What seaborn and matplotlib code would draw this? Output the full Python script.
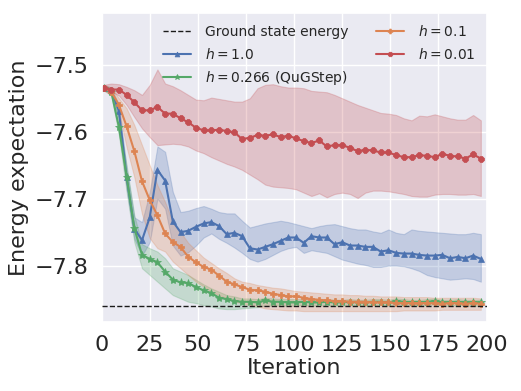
import numpy as np
import pandas as pd
import matplotlib
matplotlib.use("Agg")
import matplotlib.pyplot as plt
import seaborn as sns

iterations = list(range(1, 200, 4))
ground_state = -7.861

h1_mean = [-7.534,-7.538,-7.569,-7.668,-7.745,-7.762,-7.728,-7.657,-7.673,-7.734,
           -7.750,-7.748,-7.742,-7.737,-7.735,-7.741,-7.753,-7.751,-7.756,-7.774,
           -7.776,-7.772,-7.768,-7.763,-7.758,-7.758,-7.766,-7.756,-7.758,-7.758,
           -7.768,-7.765,-7.770,-7.770,-7.772,-7.772,-7.779,-7.777,-7.781,-7.782,
           -7.782,-7.784,-7.785,-7.785,-7.784,-7.789,-7.787,-7.789,-7.785,-7.790]
h1_upper = [-7.530,-7.534,-7.560,-7.655,-7.728,-7.735,-7.690,-7.622,-7.630,-7.690,
            -7.720,-7.718,-7.714,-7.711,-7.715,-7.720,-7.722,-7.722,-7.733,-7.743,
            -7.740,-7.737,-7.735,-7.733,-7.735,-7.738,-7.741,-7.744,-7.741,-7.739,
            -7.738,-7.741,-7.744,-7.746,-7.746,-7.749,-7.751,-7.746,-7.751,-7.753,
            -7.746,-7.748,-7.749,-7.750,-7.751,-7.752,-7.753,-7.753,-7.751,-7.753]
h1_lower = [-7.538,-7.542,-7.580,-7.685,-7.760,-7.785,-7.765,-7.700,-7.715,-7.770,
            -7.785,-7.780,-7.770,-7.758,-7.752,-7.760,-7.766,-7.773,-7.781,-7.790,
            -7.794,-7.790,-7.784,-7.778,-7.774,-7.772,-7.781,-7.777,-7.779,-7.781,
            -7.786,-7.791,-7.794,-7.797,-7.799,-7.802,-7.802,-7.800,-7.800,-7.801,
            -7.804,-7.808,-7.814,-7.817,-7.819,-7.821,-7.820,-7.819,-7.820,-7.824]

h0266_mean = [-7.534,-7.540,-7.593,-7.667,-7.744,-7.784,-7.790,-7.795,-7.809,-7.821,
              -7.825,-7.826,-7.832,-7.837,-7.841,-7.848,-7.850,-7.853,-7.854,-7.854,
              -7.855,-7.852,-7.854,-7.854,-7.855,-7.855,-7.854,-7.855,-7.855,-7.854,
              -7.855,-7.855,-7.854,-7.855,-7.855,-7.854,-7.854,-7.855,-7.853,-7.854,
              -7.855,-7.855,-7.854,-7.853,-7.855,-7.855,-7.854,-7.855,-7.855,-7.855]
h0266_upper = [-7.530,-7.536,-7.580,-7.650,-7.725,-7.768,-7.774,-7.779,-7.789,-7.804,
               -7.809,-7.814,-7.821,-7.828,-7.834,-7.839,-7.844,-7.846,-7.849,-7.849,
               -7.850,-7.848,-7.849,-7.850,-7.850,-7.850,-7.850,-7.851,-7.851,-7.850,
               -7.851,-7.851,-7.850,-7.851,-7.851,-7.850,-7.850,-7.851,-7.849,-7.850,
               -7.851,-7.851,-7.850,-7.849,-7.851,-7.851,-7.850,-7.851,-7.851,-7.851]
h0266_lower = [-7.538,-7.545,-7.605,-7.690,-7.765,-7.804,-7.814,-7.824,-7.834,-7.844,
               -7.849,-7.854,-7.856,-7.859,-7.861,-7.864,-7.865,-7.865,-7.864,-7.863,
               -7.862,-7.860,-7.860,-7.860,-7.860,-7.860,-7.859,-7.860,-7.860,-7.859,
               -7.860,-7.860,-7.859,-7.860,-7.860,-7.859,-7.859,-7.860,-7.858,-7.859,
               -7.860,-7.860,-7.859,-7.858,-7.860,-7.860,-7.859,-7.860,-7.860,-7.860]

h01_mean = [-7.534,-7.540,-7.560,-7.592,-7.629,-7.674,-7.702,-7.725,-7.752,-7.765,
            -7.772,-7.787,-7.795,-7.802,-7.806,-7.815,-7.824,-7.828,-7.832,-7.836,
            -7.837,-7.839,-7.842,-7.844,-7.846,-7.846,-7.848,-7.850,-7.851,-7.852,
            -7.853,-7.853,-7.854,-7.854,-7.854,-7.855,-7.855,-7.855,-7.856,-7.856,
            -7.856,-7.856,-7.856,-7.856,-7.857,-7.856,-7.856,-7.857,-7.856,-7.857]
h01_upper = [-7.530,-7.534,-7.550,-7.565,-7.590,-7.620,-7.650,-7.680,-7.705,-7.735,
             -7.750,-7.766,-7.777,-7.788,-7.796,-7.804,-7.811,-7.819,-7.824,-7.826,
             -7.829,-7.831,-7.833,-7.834,-7.836,-7.838,-7.839,-7.840,-7.841,-7.842,
             -7.843,-7.843,-7.844,-7.844,-7.845,-7.845,-7.846,-7.846,-7.846,-7.847,
             -7.847,-7.847,-7.847,-7.848,-7.848,-7.848,-7.848,-7.848,-7.848,-7.849]
h01_lower = [-7.538,-7.546,-7.570,-7.623,-7.668,-7.723,-7.759,-7.774,-7.779,-7.794,
             -7.804,-7.814,-7.824,-7.831,-7.839,-7.844,-7.849,-7.854,-7.856,-7.859,
             -7.861,-7.864,-7.865,-7.866,-7.867,-7.867,-7.868,-7.868,-7.868,-7.868,
             -7.868,-7.868,-7.868,-7.868,-7.868,-7.868,-7.868,-7.868,-7.868,-7.867,
             -7.867,-7.867,-7.867,-7.867,-7.866,-7.866,-7.866,-7.866,-7.866,-7.866]

h001_mean = [-7.534,-7.537,-7.537,-7.545,-7.556,-7.568,-7.568,-7.563,-7.573,-7.573,
             -7.580,-7.586,-7.594,-7.598,-7.598,-7.597,-7.599,-7.601,-7.611,-7.609,
             -7.605,-7.606,-7.604,-7.608,-7.606,-7.610,-7.614,-7.617,-7.613,-7.622,
             -7.620,-7.620,-7.624,-7.629,-7.627,-7.628,-7.631,-7.631,-7.635,-7.638,
             -7.638,-7.635,-7.636,-7.638,-7.633,-7.636,-7.637,-7.640,-7.634,-7.640]
h001_upper = [-7.530,-7.528,-7.529,-7.533,-7.538,-7.545,-7.530,-7.507,-7.528,-7.532,
              -7.538,-7.545,-7.552,-7.553,-7.549,-7.551,-7.553,-7.555,-7.555,-7.550,
              -7.535,-7.530,-7.529,-7.532,-7.534,-7.534,-7.535,-7.539,-7.540,-7.541,
              -7.545,-7.550,-7.555,-7.560,-7.564,-7.568,-7.572,-7.573,-7.575,-7.580,
              -7.583,-7.576,-7.577,-7.574,-7.577,-7.580,-7.582,-7.582,-7.575,-7.583]
h001_lower = [-7.537,-7.540,-7.546,-7.560,-7.578,-7.595,-7.608,-7.620,-7.619,-7.618,
              -7.619,-7.622,-7.628,-7.632,-7.638,-7.643,-7.648,-7.652,-7.657,-7.664,
              -7.671,-7.679,-7.682,-7.683,-7.684,-7.686,-7.691,-7.696,-7.692,-7.698,
              -7.693,-7.691,-7.693,-7.699,-7.691,-7.688,-7.688,-7.689,-7.691,-7.693,
              -7.696,-7.697,-7.697,-7.694,-7.693,-7.693,-7.694,-7.694,-7.693,-7.696]

labels = [r"$h = 1.0$", r"$h = 0.266$ (QuGStep)", r"$h = 0.1$", r"$h = 0.01$"]

sns.set_theme(style="darkgrid")
pal = sns.color_palette("deep")

fig, ax = plt.subplots(figsize=(5.21, 3.91), dpi=100)
fig.subplots_adjust(left=0.195, right=0.934, top=0.967, bottom=0.176)

ax.axhline(ground_state, color="k", linestyle="--", linewidth=1.0,
           label="Ground state energy", zorder=3)

series = [
    (h1_mean, h1_lower, h1_upper, pal[0], "^", 5.0),
    (h0266_mean, h0266_lower, h0266_upper, pal[2], "*", 6.0),
    (h01_mean, h01_lower, h01_upper, pal[1], "P", 5.0),
    (h001_mean, h001_lower, h001_upper, pal[3], "8", 5.0),
]

for (mean, lo, hi, col, mk, ms), lab in zip(series, labels):
    df = pd.DataFrame({"Iteration": iterations, "Energy": mean})
    sns.lineplot(data=df, x="Iteration", y="Energy", ax=ax, color=col,
                 marker=mk, markersize=ms, markeredgecolor=col,
                 markeredgewidth=0.5, linewidth=1.5, label=lab)
    ax.fill_between(iterations, lo, hi, color=col, alpha=0.25, linewidth=0.8)

ax.set_xlim(0, 200)
ax.set_ylim(-7.8845, -7.4225)
ax.set_xticks(range(0, 201, 25))
ax.set_yticks([-7.5, -7.6, -7.7, -7.8])
ax.tick_params(labelsize=16)
ax.set_xlabel("Iteration", fontsize=16, labelpad=2)
ax.set_ylabel("Energy expectation", fontsize=16)

ax.legend(ncol=2, loc="upper right", frameon=False, fontsize=10,
          borderaxespad=0.4, labelspacing=0.55, handletextpad=1.0,
          markerscale=0.7)

fig.savefig("out.png", dpi=100)
